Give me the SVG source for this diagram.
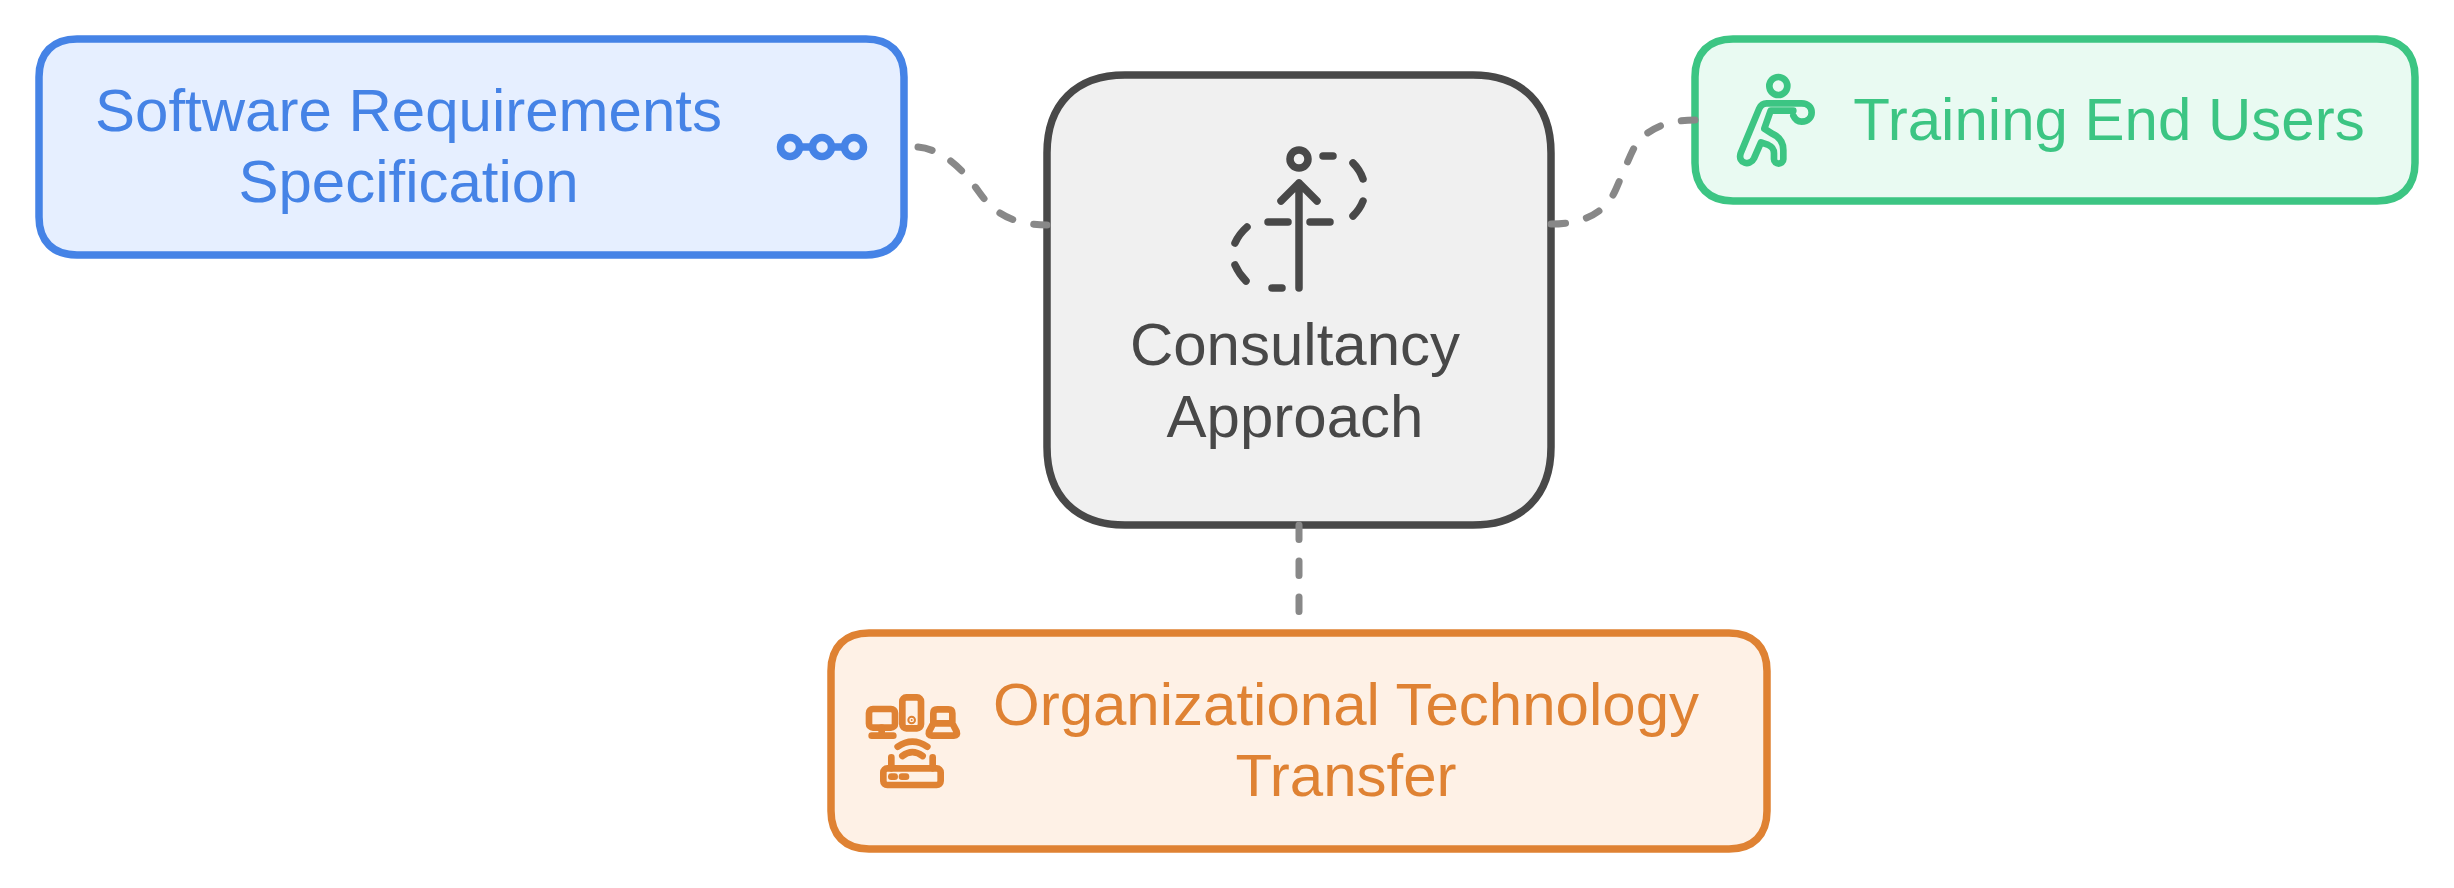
<svg xmlns="http://www.w3.org/2000/svg" width="2454" height="888" viewBox="0 0 2454 888">
<style>
text{font-family:"Liberation Sans",Arial,sans-serif;font-size:60px;text-anchor:middle}
.box{stroke-width:7.500}
.ic{fill:none;stroke-width:7.500;stroke-linecap:round;stroke-linejoin:round}
.z{fill:none;stroke-width:20;stroke-linecap:round;stroke-linejoin:round}
.conn{fill:none;stroke:#888;stroke-width:7;stroke-linecap:round;stroke-dasharray:14.500 21.500}
.b{stroke:#4583E6}.g{stroke:#3CC583}.o{stroke:#DF8233}.k{stroke:#484848}
</style>
<rect width="2454" height="888" fill="#fff"/>
<g id="node-software">
<path class="box b" fill="#E6EFFF" d="M77 39H866C890 39 904 53 904 77V217C904 241 890 255 866 255H77C53 255 39 241 39 217V77C39 53 53 39 77 39Z"/>
<text fill="#4583E6"><tspan x="408.500" y="131">Software Requirements</tspan><tspan x="408.500" y="202">Specification</tspan></text>
<g class="ic b"><circle cx="790" cy="147" r="9.500"/><circle cx="822" cy="147" r="9.500"/><circle cx="854" cy="147" r="9.500"/><path d="M800 147H812M832 147H844"/></g>
</g>
<g id="node-consultancy">
<path class="box k" fill="#F0F0F0" d="M1125 75H1473C1522 75 1551 104 1551 153V447C1551 496 1522 525 1473 525H1125C1076 525 1047 496 1047 447V153C1047 104 1076 75 1125 75Z"/>
<text fill="#484848"><tspan x="1295" y="365">Consultancy</tspan><tspan x="1295" y="437">Approach</tspan></text>
<g class="ic k"><circle cx="1299" cy="159" r="9"/><path d="M1299 288V183M1281 201L1299 183L1317 201M1323 156H1333M1353 163Q1360 170 1363 179M1363 201Q1360 209 1353 216M1310 222H1330M1268 222H1288M1247 227Q1239 234 1235 243M1235 265Q1239 274 1246 281M1272 288H1282"/></g>
</g>
<g id="node-training">
<path class="box g" fill="#E9FAF2" d="M1733 39H2377C2401 39 2415 53 2415 77V163C2415 187 2401 201 2377 201H1733C1709 201 1695 187 1695 163V77C1695 53 1709 39 1733 39Z"/>
<text x="2109" y="140" fill="#3CC583">Training End Users</text>
<g transform="translate(1700 50) scale(.3333)" class="z g"><circle cx="235" cy="108" r="27"/><path d="M285 160H200Q185 160 178 175L122 310C112 340 150 350 162 325L183 277L205 285Q222 292 222 310V328C222 345 250 345 250 328V300Q250 265 215 250L193 236L212 182H280M270 160H305C345 160 345 215 305 215Q288 215 280 197"/></g>
</g>
<g id="node-organizational">
<path class="box o" fill="#FEF1E6" d="M869 633H1729C1753 633 1767 647 1767 671V811C1767 835 1753 849 1729 849H869C845 849 831 835 831 811V671C831 647 845 633 869 633Z"/>
<text fill="#DF8233"><tspan x="1346" y="725">Organizational Technology</tspan><tspan x="1346" y="796">Transfer</tspan></text>
<g transform="translate(850 680) scale(.3333)" class="z o"><rect x="57" y="87" width="78" height="56" rx="12"/><path d="M95 143V167M65 167H130"/><rect x="157" y="52" width="56" height="93" rx="12"/><circle cx="185" cy="120" r="3" fill="#DF8233"/><path d="M250 130V100Q250 88 262 88H295Q307 88 307 100V130M250 130L237 155Q234 167 245 167H312Q324 167 320 155L307 130Z"/><path d="M143 200Q187 170 232 200M157 228Q187 205 218 228"/><rect x="100" y="265" width="172" height="50" rx="12"/><path d="M124 232V265M248 232V265M124 290H134M156 290H168"/></g>
</g>
<g id="connectors">
<path class="conn" d="M918 147C948 150 969 178 979 192C989 206 1005 225 1047 225"/>
<path class="conn" d="M1551 224C1585 224 1606 212 1616 189C1623 173 1628 160 1634 148C1645 130 1665 120 1695 120"/>
<path class="conn" d="M1299 525V615"/>
</g>
</svg>
